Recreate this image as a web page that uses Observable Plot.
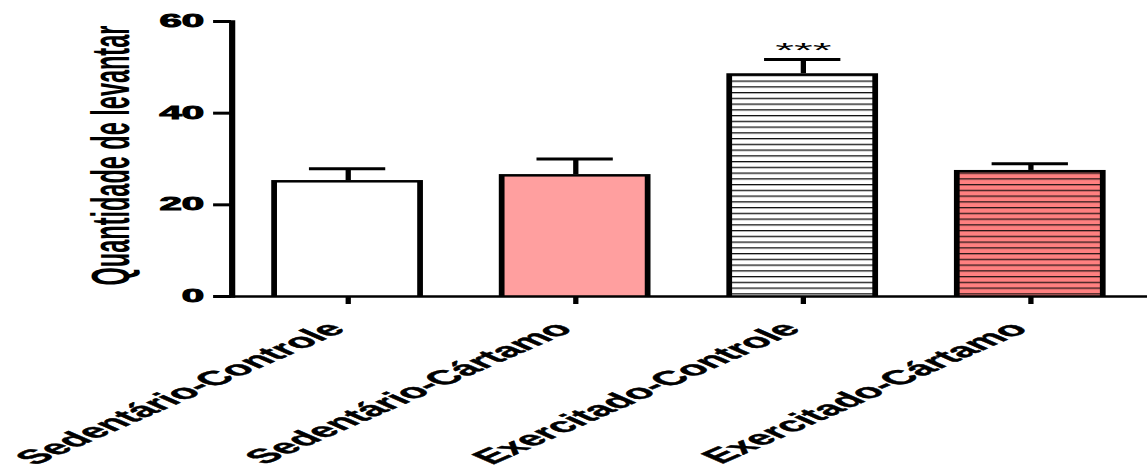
<!DOCTYPE html>
<html>
<head>
<meta charset="utf-8">
<script src="https://cdn.jsdelivr.net/npm/d3@7"></script>
<script src="https://cdn.jsdelivr.net/npm/@observablehq/plot@0.6"></script>
<style>
  html, body { margin: 0; padding: 0; background: #fff; overflow: hidden; }
  #chart svg { display: block; transform-origin: 0 0; }
</style>
</head>
<body>
<div id="chart"></div>
<script>
// ---- data ----
const categories = ["Sedentário-Controle", "Sedentário-Cártamo", "Exercitado-Controle", "Exercitado-Cártamo"];
const means = [25.3, 26.6, 48.6, 27.5];
const sems = [2.6, 3.4, 3.1, 1.45];
const fills = ["#ffffff", "#ff9f9f", "url(#stripesWhite)", "url(#stripesRed)"];
const stars = ["", "", "***", ""];
const yTicks = [0, 20, 40, 60];
const yTitle = "Quantidade de levantar";

// ---- layout (the reference is horizontally stretched) ----
const W = 1147, H = 474, NATIVE_W = 499, K = W / NATIVE_W;

const data = categories.map((c, i) => ({
  cat: c, mean: means[i], top: means[i] + sems[i], fill: fills[i], star: stars[i]
}));

const svg = Plot.plot({
  width: NATIVE_W,
  height: H,
  marginLeft: 100.5,
  marginRight: 0,
  marginTop: 21,
  marginBottom: 178,
  style: { fontFamily: "'Liberation Sans', Arial, sans-serif", color: "black", background: "white", overflow: "visible" },
  x: { domain: categories, paddingInner: 0.33, paddingOuter: 0.165, label: null },
  y: { domain: [0, 60], label: null },
  color: { type: "identity" },
  marks: [
    Plot.barY(data, { x: "cat", y: "mean", fill: "black" }),
    Plot.barY(data, { x: "cat", y: "mean", fill: "fill", insetLeft: 2.5, insetRight: 2.5, insetTop: 2.5 }),
    Plot.ruleY([0], { strokeWidth: 2.6 }),
    Plot.frame({ anchor: "left", strokeWidth: 2.7 }),
    Plot.axisY({ ticks: yTicks, tickSize: 7.8, tickPadding: 4.4, strokeWidth: 3, fontSize: 17.5, fontWeight: "bold", label: null }),
    Plot.axisX({ tickSize: 8, tickFormat: () => "", strokeWidth: 2.3, label: null }),
    Plot.text(data, { x: "cat", y: () => 0, text: "cat", rotate: -45, textAnchor: "end", dx: -5, dy: 29, fontSize: 20, fontWeight: "bold", fill: "black", stroke: "black", strokeWidth: 0.4 }),
    Plot.ruleX(data, { x: "cat", y1: "mean", y2: "top", strokeWidth: 2.3 }),
    Plot.tickY(data, { x: "cat", y: "top", strokeWidth: 3, insetLeft: 16.4, insetRight: 16.4 }),
    Plot.text(data, { x: "cat", y: "top", text: "star", dy: -9, fontSize: 21 }),
    Plot.text([yTitle], { frameAnchor: "left", textAnchor: "middle", rotate: -90, dx: -52.6, dy: -3.5, fontSize: 23.5, fontWeight: "bold" })
  ]
});

const defs = document.createElementNS("http://www.w3.org/2000/svg", "defs");
defs.innerHTML =
  '<pattern id="stripesWhite" patternUnits="userSpaceOnUse" width="10" height="5.75">' +
  '<rect width="10" height="5.75" fill="#ffffff"/><rect width="10" height="1.3" fill="#111111"/></pattern>' +
  '<pattern id="stripesRed" patternUnits="userSpaceOnUse" width="10" height="5.75">' +
  '<rect width="10" height="5.75" fill="#ff8080"/><rect width="10" height="1.3" fill="#2a1818"/></pattern>';
svg.insertBefore(defs, svg.firstChild);
// heavier y tick labels, like the reference's black-weight digits
svg.querySelectorAll('g[aria-label="y-axis tick label"] text').forEach(t => {
  t.setAttribute("stroke", "black");
  t.setAttribute("stroke-width", "0.9");
});
svg.style.transform = `scaleX(${K})`;
document.getElementById("chart").appendChild(svg);
</script>
</body>
</html>
